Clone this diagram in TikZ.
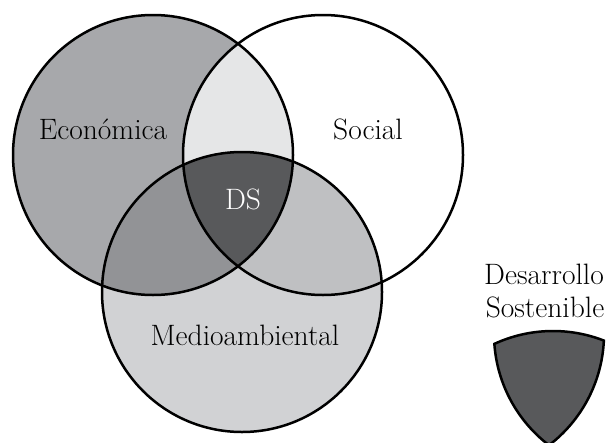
\documentclass[tikz,border=0pt]{standalone}
\definecolor{cLeft}{HTML}{A7A8AB}
\definecolor{cBottom}{HTML}{D1D2D4}
\definecolor{cLR}{HTML}{E5E6E7}
\definecolor{cLB}{HTML}{929396}
\definecolor{cRB}{HTML}{BFC0C2}
\definecolor{cDS}{HTML}{58595B}
\begin{document}
\begin{tikzpicture}[x=1pt,y=1pt,
  lab/.style={font=\fontsize{29.5}{33}\selectfont, inner sep=0pt, anchor=base},
  ring/.style={draw=black, line width=2.5pt}]
\useasboundingbox (0,0) rectangle (615,-442);
\def\rr{140}
\coordinate (L) at (153,-155);
\coordinate (R) at (323,-155);
\coordinate (B) at (242,-292);
% fills
\fill[cLeft] (L) circle[radius=\rr];
\fill[cBottom] (B) circle[radius=\rr];
\begin{scope}\clip (L) circle[radius=\rr]; \fill[cLR] (R) circle[radius=\rr]; \end{scope}
\begin{scope}\clip (L) circle[radius=\rr]; \fill[cLB] (B) circle[radius=\rr]; \end{scope}
\begin{scope}\clip (R) circle[radius=\rr]; \fill[cRB] (B) circle[radius=\rr]; \end{scope}
\begin{scope}\clip (L) circle[radius=\rr]; \clip (R) circle[radius=\rr]; \fill[cDS] (B) circle[radius=\rr]; \end{scope}
% outlines
\draw[ring] (L) circle[radius=\rr];
\draw[ring] (R) circle[radius=\rr];
\draw[ring] (B) circle[radius=\rr];
% labels
\node[lab] (econ) at (103,-139) {Económica};
\node[lab] (social) at (368,-139) {Social};
\node[lab, text=white] (ds) at (243,-209) {DS};
\node[lab] (medio) at (245,-345) {Medioambiental};
\node[lab] (des1) at (544,-284) {Desarrollo};
\node[lab] (des2) at (545,-317) {Sostenible};
% legend shield (copy of the DS region)
\begin{scope}[shift={(311,-179)}]
\filldraw[fill=cDS, ring] (183.35,-164.88)
  arc[start angle=114.77, end angle=68.70, radius=\rr]
  arc[start angle=-2.69, end angle=-52.62, radius=\rr]
  arc[start angle=232.62, end angle=184.05, radius=\rr] -- cycle;
\end{scope}
\end{tikzpicture}
\end{document}
